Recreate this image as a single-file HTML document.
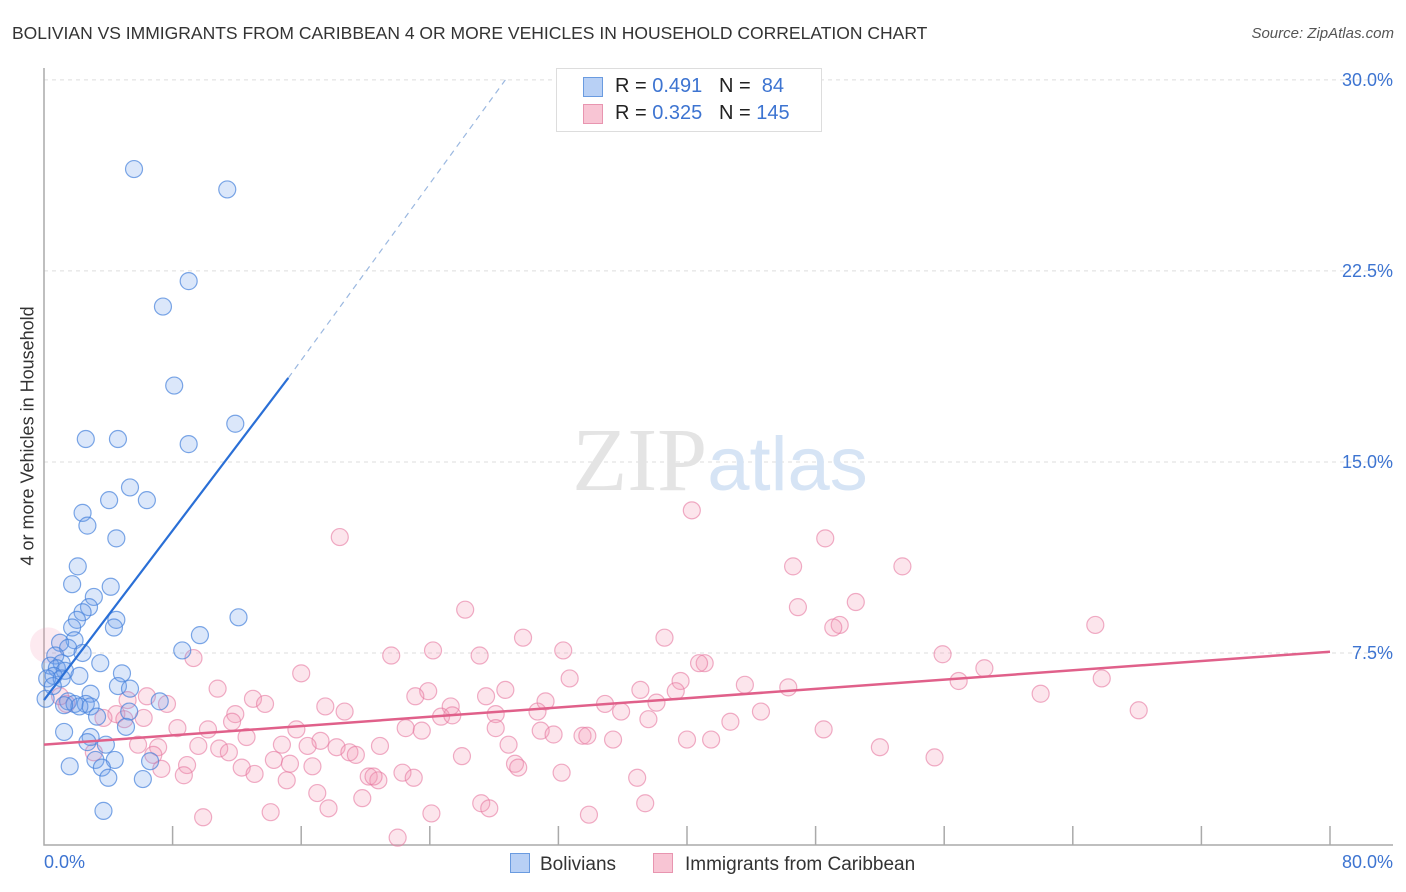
<!DOCTYPE html>
<html><head><meta charset="utf-8"><style>
body{margin:0;background:#fff;font-family:"Liberation Sans",sans-serif;}
#wrap{position:relative;width:1406px;height:892px;overflow:hidden;}
.t{position:absolute;white-space:nowrap;}
</style></head><body>
<div id="wrap">
<div class="t" style="left:12px;top:23px;font-size:17.5px;color:#333;">BOLIVIAN VS IMMIGRANTS FROM CARIBBEAN 4 OR MORE VEHICLES IN HOUSEHOLD CORRELATION CHART</div>
<div class="t" style="right:12px;top:25px;font-size:15px;color:#555;font-style:italic;">Source: ZipAtlas.com</div>
<div class="t" style="left:-82px;top:445px;font-size:18px;color:#333;transform:rotate(-90deg);width:220px;text-align:center;">4 or more Vehicles in Household</div>
<svg id="svg" width="1406" height="892" style="position:absolute;left:0;top:0"></svg>
</div>
<script>
const blue=[[5.6,26.5],[11.4,25.7],[9.0,22.1],[7.4,21.1],[8.1,18.0],[11.9,16.5],[2.6,15.9],[4.6,15.9],[9.0,15.7],[5.35,14.0],[6.4,13.5],[4.05,13.5],[2.4,13.0],[2.7,12.5],[4.5,12.0],[2.1,10.9],[1.75,10.2],[4.15,10.1],[3.1,9.7],[2.8,9.3],[2.4,9.1],[12.1,8.9],[2.05,8.8],[4.5,8.8],[1.75,8.5],[4.35,8.5],[9.7,8.2],[1.9,8.0],[1.0,7.9],[8.6,7.6],[1.5,7.7],[2.4,7.5],[0.7,7.4],[3.5,7.1],[1.1,7.1],[0.4,7.0],[0.8,6.9],[1.3,6.8],[4.85,6.7],[0.6,6.6],[2.2,6.6],[0.2,6.5],[1.1,6.5],[4.6,6.2],[0.55,6.2],[5.35,6.1],[2.9,5.9],[0.1,5.7],[7.2,5.6],[1.5,5.6],[2.6,5.5],[1.9,5.5],[2.2,5.4],[2.9,5.4],[1.25,5.45],[5.3,5.2],[3.3,5.0],[5.1,4.6],[1.25,4.4],[2.9,4.2],[2.7,4.0],[3.85,3.9],[3.2,3.3],[4.4,3.3],[6.6,3.25],[1.6,3.05],[3.6,3.0],[4.0,2.6],[6.15,2.55],[3.7,1.3]];
const pink=[[40.3,13.1],[48.6,12.0],[18.4,12.05],[46.6,10.9],[53.4,10.9],[50.5,9.5],[26.2,9.2],[46.9,9.3],[49.5,8.6],[49.1,8.5],[65.4,8.6],[29.8,8.1],[38.6,8.1],[32.3,7.6],[24.2,7.6],[21.6,7.4],[27.1,7.4],[55.9,7.45],[41.1,7.1],[40.75,7.1],[9.3,7.3],[58.5,6.9],[16.0,6.7],[32.7,6.5],[56.9,6.4],[65.8,6.5],[39.6,6.4],[10.8,6.1],[37.1,6.05],[28.7,6.05],[23.9,6.0],[23.1,5.8],[27.5,5.8],[46.3,6.15],[43.6,6.25],[39.3,6.0],[62.0,5.9],[6.4,5.8],[13.0,5.7],[13.75,5.5],[7.65,5.5],[5.2,5.65],[34.9,5.5],[38.1,5.55],[31.2,5.6],[25.3,5.4],[17.5,5.4],[18.7,5.2],[35.9,5.2],[68.1,5.25],[44.6,5.2],[11.9,5.1],[24.7,5.0],[25.4,5.05],[28.1,5.1],[30.7,5.2],[37.6,4.9],[4.5,5.1],[3.7,4.95],[5.0,4.9],[6.2,4.95],[11.7,4.8],[1.4,5.5],[1.0,5.8],[42.7,4.8],[28.1,4.55],[22.5,4.55],[23.5,4.45],[15.7,4.5],[10.2,4.5],[8.3,4.55],[30.9,4.45],[31.7,4.3],[33.5,4.25],[33.8,4.25],[35.4,4.1],[48.5,4.5],[40.0,4.1],[41.5,4.1],[12.6,4.2],[17.2,4.05],[14.8,3.9],[9.6,3.85],[10.9,3.75],[11.5,3.6],[7.1,3.8],[16.4,3.85],[20.9,3.85],[18.2,3.8],[19.0,3.6],[19.4,3.5],[28.9,3.9],[6.8,3.5],[3.1,3.6],[26.0,3.45],[52.0,3.8],[55.4,3.4],[14.3,3.3],[15.3,3.15],[16.7,3.05],[8.9,3.1],[12.3,3.0],[7.3,2.95],[29.3,3.15],[29.5,3.0],[13.1,2.75],[8.7,2.7],[20.2,2.65],[20.8,2.5],[22.3,2.8],[23.0,2.6],[20.5,2.65],[32.2,2.8],[36.9,2.6],[15.1,2.5],[17.0,2.0],[19.8,1.8],[17.7,1.4],[14.1,1.25],[9.9,1.05],[27.2,1.6],[27.7,1.4],[37.4,1.6],[33.9,1.15],[24.1,1.2],[22.0,0.25],[5.85,3.9]];
const yTicks=[7.5,15,22.5,30];
const yTickLabels=["7.5%","15.0%","22.5%","30.0%"];
const xTicks=[0,8,16,24,32,40,48,56,64,72,80];
const blueTrend=[[0,5.65],[15.2,18.3]];
const blueDash=[[15.2,18.3],[28.7,30]];
const pinkTrend=[[0,3.9],[80,7.55]];
const X=v=>44+v*16.075, Y=v=>844-v*25.47;
const svg=document.getElementById('svg'),NS='http://www.w3.org/2000/svg';
function mk(t,a,p){const e=document.createElementNS(NS,t);for(const k in a)e.setAttribute(k,a[k]);(p||svg).appendChild(e);return e;}
yTicks.forEach((v,i)=>{
 const g=mk('line',{x1:44,x2:1393,y1:Y(v),y2:Y(v),stroke:'#ddd','stroke-dasharray':'4,4'});
 
 
 const t=mk('text',{x:1393,y:Y(v)+6,'text-anchor':'end','font-size':18,fill:'#3d74d1'});t.textContent=yTickLabels[i];
 
 
});
const ax=mk('path',{d:'M44,68V845H1393',stroke:'#aaa',fill:'none','stroke-width':1.5});


xTicks.forEach(v=>{if(v===0)return;const l=mk('line',{x1:X(v),x2:X(v),y1:826,y2:845,stroke:'#aaa','stroke-width':1.5});
 
 });
const wm=mk('text',{x:720,y:490,'text-anchor':'middle','font-size':90,fill:'#e4e4e4','font-family':'Liberation Serif'});
wm.innerHTML='ZIP<tspan fill="#d6e4f5" font-family="Liberation Sans" font-size="76">atlas</tspan>';


pink.forEach(p=>{const c=mk('circle',{cx:X(p[0]),cy:Y(p[1]),r:8.5,fill:'rgba(244,150,180,0.25)',stroke:'rgba(230,120,160,0.6)','stroke-width':1.2});
 
 });
const big=mk('circle',{cx:X(0.25),cy:Y(7.8),r:18,fill:'rgba(244,150,180,0.2)',stroke:'none'});


blue.forEach(p=>{const c=mk('circle',{cx:X(p[0]),cy:Y(p[1]),r:8.5,fill:'rgba(110,160,235,0.25)',stroke:'rgba(70,130,220,0.7)','stroke-width':1.2});
 
 });
const bl=mk('line',{x1:X(blueTrend[0][0]),y1:Y(blueTrend[0][1]),x2:X(blueTrend[1][0]),y2:Y(blueTrend[1][1]),stroke:'#2a6fd6','stroke-width':2.2});


const bd=mk('line',{x1:X(blueDash[0][0]),y1:Y(blueDash[0][1]),x2:X(blueDash[1][0]),y2:Y(blueDash[1][1]),stroke:'#9bb8e0','stroke-width':1.2,'stroke-dasharray':'6,5'});


const pl=mk('line',{x1:X(pinkTrend[0][0]),y1:Y(pinkTrend[0][1]),x2:X(pinkTrend[1][0]),y2:Y(pinkTrend[1][1]),stroke:'#e0608a','stroke-width':2.5});


</script>
<div class="t" style="left:44px;top:852px;font-size:18px;color:#3d74d1;">0.0%</div>
<div class="t" style="right:13px;top:852px;font-size:18px;color:#3d74d1;">80.0%</div>
<div style="position:absolute;left:556px;top:68px;width:264px;height:62px;border:1px solid #ddd;background:#fff;font-size:20px;color:#222;">
 <div style="position:absolute;left:26px;top:8px;width:18px;height:18px;background:#b8d0f5;border:1px solid #6a9be0;"></div>
 <div class="t" style="left:58px;top:6px;">R = <span style="color:#3d74d1">0.491</span>&nbsp;&nbsp;&nbsp;N = &nbsp;<span style="color:#3d74d1">84</span></div>
 <div style="position:absolute;left:26px;top:35px;width:18px;height:18px;background:#f8c5d4;border:1px solid #e895b0;"></div>
 <div class="t" style="left:58px;top:33px;">R = <span style="color:#3d74d1">0.325</span>&nbsp;&nbsp;&nbsp;N = <span style="color:#3d74d1">145</span></div>
</div>
<div style="position:absolute;left:510px;top:853px;font-size:19px;color:#333;">
 <div style="position:absolute;left:0;top:0;white-space:nowrap;"><span style="display:inline-block;width:18px;height:18px;background:#b8d0f5;border:1px solid #6a9be0;vertical-align:-3px;margin-right:10px;"></span>Bolivians</div>
 <div style="position:absolute;left:143px;top:0;white-space:nowrap;"><span style="display:inline-block;width:18px;height:18px;background:#f8c5d4;border:1px solid #e895b0;vertical-align:-3px;margin-right:12px;"></span>Immigrants from Caribbean</div>
</div>
</body></html>
